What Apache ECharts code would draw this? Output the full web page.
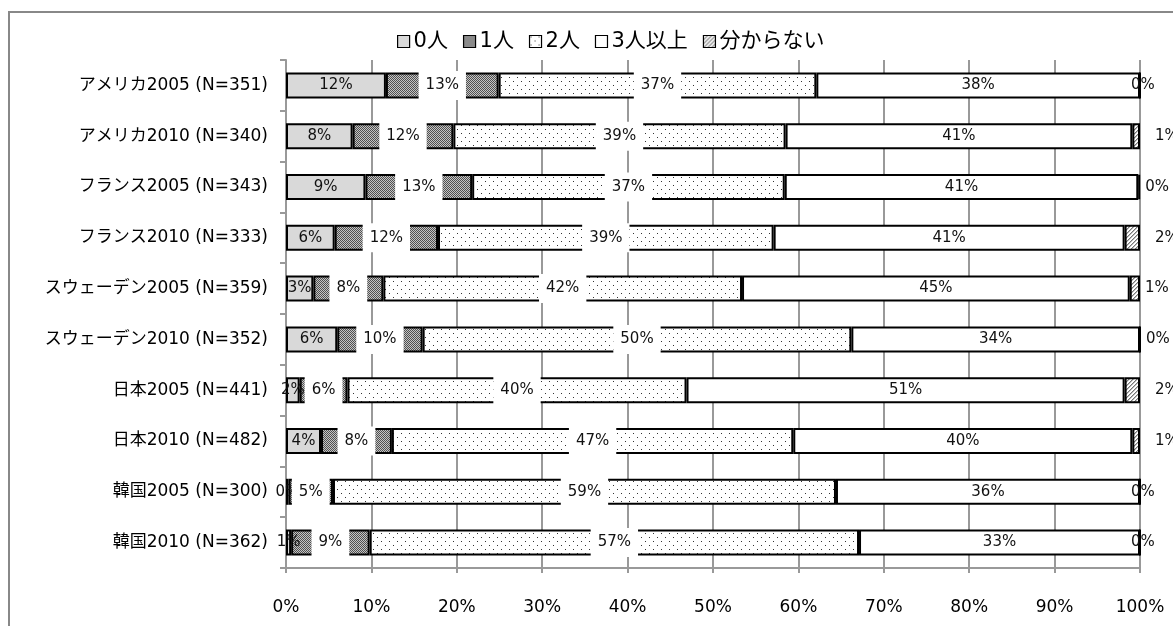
<!DOCTYPE html>
<html>
<head>
<meta charset="utf-8">
<script src="https://cdn.jsdelivr.net/npm/echarts@6/dist/echarts.min.js"></script>
<style>
  html, body { margin: 0; padding: 0; background: #fff; }
  #chart { width: 1173px; height: 626px; }
</style>
</head>
<body>
<div id="chart"></div>
<script>
// Number of children per household, share of respondents (%)
const categories = [
  'アメリカ2005 (N=351)', 'アメリカ2010 (N=340)',
  'フランス2005 (N=343)', 'フランス2010 (N=333)',
  'スウェーデン2005 (N=359)', 'スウェーデン2010 (N=352)',
  '日本2005 (N=441)', '日本2010 (N=482)',
  '韓国2005 (N=300)', '韓国2010 (N=362)'
];
const seriesNames = ['0人', '1人', '2人', '3人以上', '分からない'];
const zero   = [11.7, 7.8, 9.3, 5.7, 3.2, 6.0, 1.6, 4.1, 0.3, 0.6];
const one    = [13.2, 11.8, 12.5, 12.1, 8.2, 10.0, 5.6, 8.3, 5.2, 9.2];
const two    = [37.2, 38.9, 36.6, 39.3, 42.0, 50.2, 39.7, 47.0, 58.9, 57.3];
const three  = [37.9, 40.6, 41.4, 41.1, 45.4, 33.8, 51.3, 39.7, 35.6, 32.9];
const unsure = [0, 0.9, 0.2, 1.8, 1.2, 0, 1.8, 0.9, 0, 0];
const xTicks = [0, 10, 20, 30, 40, 50, 60, 70, 80, 90, 100];

// gap between the end of each bar and its "分からない" label
const unsureLabelGap = [-10, 15, 5, 15, 5, 5, 15, 15, -10, -10];

function tile(w, h, draw) {
  const c = document.createElement('canvas');
  c.width = w; c.height = h;
  const ctx = c.getContext('2d');
  draw(ctx);
  return { image: c, repeat: 'repeat' };
}
const checker = tile(2, 2, ctx => {
  ctx.fillStyle = '#c4c4c4'; ctx.fillRect(0, 0, 2, 2);
  ctx.fillStyle = '#505050'; ctx.fillRect(0, 0, 1, 1); ctx.fillRect(1, 1, 1, 1);
});
const dots = tile(8, 8, ctx => {
  ctx.fillStyle = '#fff'; ctx.fillRect(0, 0, 8, 8);
  ctx.fillStyle = '#333'; ctx.fillRect(1, 1, 1, 1); ctx.fillRect(5, 5, 1, 1);
});
const hatch = tile(4, 4, ctx => {
  ctx.fillStyle = '#fff'; ctx.fillRect(0, 0, 4, 4);
  ctx.fillStyle = '#777';
  for (let i = 0; i < 4; i++) ctx.fillRect(i, 3 - i, 1, 1);
  ctx.fillStyle = '#bbb';
  for (let i = 0; i < 4; i++) ctx.fillRect(i, (4 - i) % 4, 1, 1);
});

const FONT = "'DejaVu Sans', 'Noto Sans CJK JP', sans-serif";
const pct = p => Math.round(p.value) + '%';
const baseLabel = { show: true, position: 'inside', formatter: pct, fontSize: 15, color: '#111', fontFamily: FONT };
const boxedLabel = Object.assign({}, baseLabel, { backgroundColor: '#fff', padding: [7, 7] });

const fills = ['#d9d9d9', checker, dots, '#fff', hatch];
const datasets = [zero, one, two, three, unsure];

const series = datasets.map((vals, si) => {
  let label = baseLabel;
  if (si === 1 || si === 2) label = boxedLabel;
  const data = vals.map((v, i) => {
    if (si !== 4) return v;
    return { value: v, label: { position: 'right', distance: unsureLabelGap[i] } };
  });
  return {
    name: seriesNames[si],
    type: 'bar',
    stack: 'total',
    barWidth: 26,
    data: data,
    itemStyle: { color: fills[si], borderColor: '#000', borderWidth: 2 },
    label: label,
    labelLayout: { hideOverlap: false }
  };
});

const chart = echarts.init(document.getElementById('chart'));
chart.setOption({
  animation: false,
  textStyle: { fontFamily: FONT },
  graphic: [{
    type: 'rect', shape: { x: 9, y: 12, width: 1300, height: 800 },
    style: { fill: 'none', stroke: '#888', lineWidth: 2 }, silent: true
  }],
  legend: {
    top: 26, left: 392,
    itemWidth: 12, itemHeight: 12, itemGap: 15,
    icon: 'rect',
    textStyle: { fontSize: 21, color: '#000', fontFamily: FONT, padding: [0, 0, 0, -1] },
    itemStyle: { borderColor: '#000', borderWidth: 1.2 },
    data: seriesNames
  },
  grid: { left: 286, right: 33, top: 60, bottom: 58, containLabel: false },
  xAxis: {
    type: 'value', min: xTicks[0], max: xTicks[xTicks.length - 1], interval: 10,
    axisLabel: { formatter: '{value}%', fontSize: 17, color: '#000', margin: 31, fontFamily: FONT },
    axisLine: { show: true, lineStyle: { color: '#999', width: 2 } },
    axisTick: { show: true, length: 5, lineStyle: { color: '#999', width: 2 } },
    splitLine: { show: true, lineStyle: { color: '#999', width: 2 } }
  },
  yAxis: {
    type: 'category', inverse: true, data: categories,
    axisLabel: { fontSize: 17, color: '#000', margin: 18, fontFamily: FONT },
    axisLine: { show: true, lineStyle: { color: '#999', width: 2 } },
    axisTick: { show: true, length: 6, lineStyle: { color: '#999', width: 2 } }
  },
  series: series
});
</script>
</body>
</html>
